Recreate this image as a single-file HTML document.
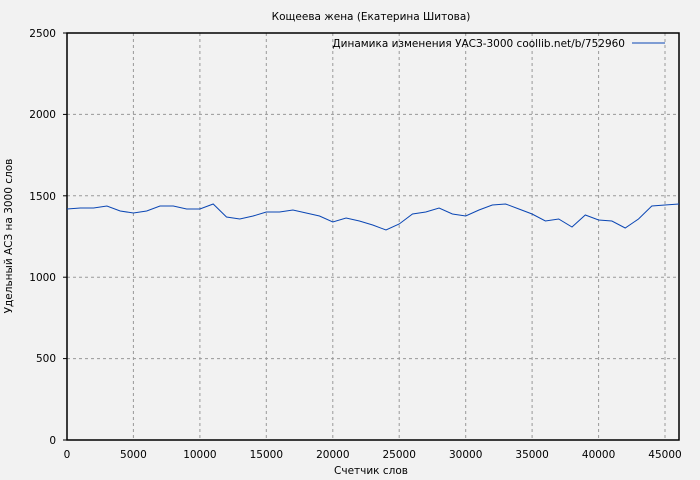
<!DOCTYPE html>
<html><head><meta charset="utf-8"><style>
body{margin:0;background:#f2f2f2;}
svg{display:block;font-family:"DejaVu Sans","Liberation Sans",sans-serif;}
</style></head><body>
<svg width="700" height="480" xmlns="http://www.w3.org/2000/svg">
<rect width="700" height="480" fill="#f2f2f2"/>
<g stroke="#999" stroke-dasharray="3,3" stroke-width="1">
<line x1="67" y1="358.6" x2="679" y2="358.6"/>
<line x1="67" y1="277.2" x2="679" y2="277.2"/>
<line x1="67" y1="195.8" x2="679" y2="195.8"/>
<line x1="67" y1="114.4" x2="679" y2="114.4"/>
<line x1="133.4" y1="33" x2="133.4" y2="440"/>
<line x1="199.9" y1="33" x2="199.9" y2="440"/>
<line x1="266.3" y1="33" x2="266.3" y2="440"/>
<line x1="332.8" y1="33" x2="332.8" y2="440"/>
<line x1="399.2" y1="33" x2="399.2" y2="440"/>
<line x1="465.7" y1="33" x2="465.7" y2="440"/>
<line x1="532.1" y1="33" x2="532.1" y2="440"/>
<line x1="598.6" y1="33" x2="598.6" y2="440"/>
<line x1="665" y1="33" x2="665" y2="440"/>
</g>
<rect x="67" y="33" width="612" height="407" fill="none" stroke="#000" stroke-width="1.5"/>
<g stroke="#000">
<line x1="63" y1="440" x2="67" y2="440"/><line x1="63" y1="358.6" x2="67" y2="358.6"/><line x1="63" y1="277.2" x2="67" y2="277.2"/><line x1="63" y1="195.8" x2="67" y2="195.8"/><line x1="63" y1="114.4" x2="67" y2="114.4"/><line x1="63" y1="33" x2="67" y2="33"/>
</g>
<g font-size="10.5" fill="#000" text-anchor="end">
<text x="56" y="444">0</text><text x="56" y="362">500</text><text x="56" y="281">1000</text><text x="56" y="200">1500</text><text x="56" y="118">2000</text><text x="56" y="37">2500</text>
</g>
<g font-size="10.5" fill="#000" text-anchor="middle">
<text x="67" y="458">0</text><text x="133.4" y="458">5000</text><text x="199.9" y="458">10000</text><text x="266.3" y="458">15000</text><text x="332.8" y="458">20000</text><text x="399.2" y="458">25000</text><text x="465.7" y="458">30000</text><text x="532.1" y="458">35000</text><text x="598.6" y="458">40000</text><text x="665" y="458">45000</text>
<text x="371" y="474">Счетчик слов</text>
<text x="371" y="20">Кощеева жена (Екатерина Шитова)</text>
</g>
<text x="12" y="236" font-size="10.5" text-anchor="middle" transform="rotate(-90 12 236)">Удельный АСЗ на 3000 слов</text>
<text x="625" y="47" font-size="10.5" text-anchor="end">Динамика изменения УАСЗ-3000 coollib.net/b/752960</text>
<line x1="632" y1="43" x2="665" y2="43" stroke="#0a46b4"/>
<polyline fill="none" stroke="#0a46b4" stroke-width="1" points="67,209 80.3,208 93.6,208 106.9,206 120.2,211 133.4,213 146.7,211 160,206 173.3,206 186.6,209 199.9,209 213.2,204 226.5,217 239.8,219 253.1,216 266.3,212 279.6,212 292.9,210 306.2,213 319.5,216 332.8,222 346.1,218 359.4,221 372.7,225 386,230 399.2,224 412.5,214 425.8,212 439.1,208 452.4,214 465.7,216 479,210 492.3,205 505.6,204 518.9,209 532.1,214 545.4,221 558.7,219 572,227 585.3,215 598.6,220 611.9,221 625.2,228 638.5,219 651.8,206 665,205 679,204"/>
</svg>
</body></html>
